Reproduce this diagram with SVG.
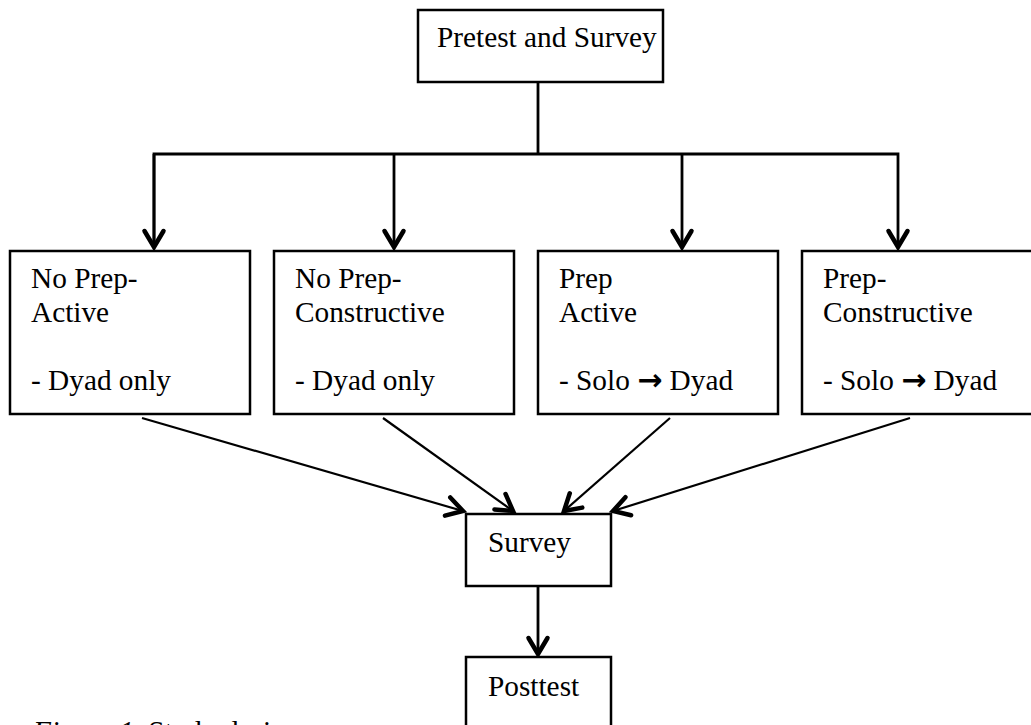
<svg xmlns="http://www.w3.org/2000/svg" width="1031" height="725" viewBox="0 0 1031 725">
<style>
.box{fill:#fff;stroke:#000;stroke-width:2.5}
.t{font-family:"Liberation Serif","Times New Roman",serif;font-size:29.3px;fill:#000}
.ar{font-family:"DejaVu Sans",sans-serif;font-size:30px;font-weight:bold}
.c{fill:none;stroke:#000;stroke-width:2.8}
.d{fill:none;stroke:#000;stroke-width:2.2}
</style>
<defs>
<marker id="ah" markerUnits="userSpaceOnUse" markerWidth="40" markerHeight="40" viewBox="-20 -20 40 40" refX="0" refY="0" orient="auto" overflow="visible">
<path d="M-16,-9.5 L0,0 L-16,9.5" fill="none" stroke="#000" stroke-width="4.5" stroke-linecap="round" stroke-linejoin="miter"/>
</marker>
</defs>
<rect width="1031" height="725" fill="#fff"/>
<g id="connectors">
<line class="c" x1="538" y1="82" x2="538" y2="154"/>
<polyline class="c" points="154,247 154,154 898,154 898,247" marker-end="url(#ah)"/>
<line class="c" x1="154" y1="154" x2="154" y2="247" marker-end="url(#ah)"/>
<line class="c" x1="394" y1="154" x2="394" y2="247" marker-end="url(#ah)"/>
<line class="c" x1="682" y1="154" x2="682" y2="247" marker-end="url(#ah)"/>
<line class="d" x1="142" y1="418" x2="463" y2="511" marker-end="url(#ah)"/>
<line class="d" x1="383" y1="418" x2="513" y2="511" marker-end="url(#ah)"/>
<line class="d" x1="670" y1="418" x2="564" y2="511" marker-end="url(#ah)"/>
<line class="d" x1="910" y1="418" x2="613" y2="511" marker-end="url(#ah)"/>
<line class="c" x1="538" y1="586" x2="538" y2="654" marker-end="url(#ah)"/>
</g>
<g id="pretest">
<rect class="box" x="418" y="10" width="245" height="72"/>
<text class="t" x="437" y="47">Pretest and Survey</text>
</g>
<g id="noprep-active">
<rect class="box" x="10" y="251" width="240" height="163"/>
<text class="t" x="31" y="288">No Prep-</text>
<text class="t" x="31" y="322">Active</text>
<text class="t" x="31" y="390">- Dyad only</text>
</g>
<g id="noprep-constructive">
<rect class="box" x="274" y="251" width="240" height="163"/>
<text class="t" x="295" y="288">No Prep-</text>
<text class="t" x="295" y="322">Constructive</text>
<text class="t" x="295" y="390">- Dyad only</text>
</g>
<g id="prep-active">
<rect class="box" x="538" y="251" width="240" height="163"/>
<text class="t" x="559" y="288">Prep</text>
<text class="t" x="559" y="322">Active</text>
<text class="t" x="559" y="390">- Solo <tspan class="ar">→</tspan> Dyad</text>
</g>
<g id="prep-constructive">
<rect class="box" x="802" y="251" width="240" height="163"/>
<text class="t" x="823" y="288">Prep-</text>
<text class="t" x="823" y="322">Constructive</text>
<text class="t" x="823" y="390">- Solo <tspan class="ar">→</tspan> Dyad</text>
</g>
<g id="survey">
<rect class="box" x="466" y="514" width="145" height="72"/>
<text class="t" x="488" y="552">Survey</text>
</g>
<g id="posttest">
<rect class="box" x="466" y="657" width="145" height="90"/>
<text class="t" x="488" y="696">Posttest</text>
</g>
<g id="caption">
<text class="t" x="33" y="741"><tspan font-style="italic">Figure 1.</tspan> Study design</text>
</g>
</svg>
